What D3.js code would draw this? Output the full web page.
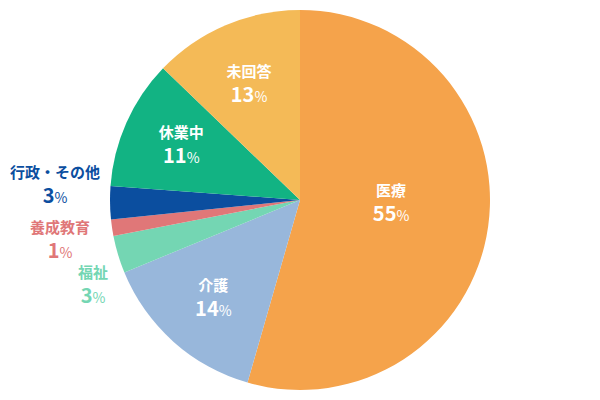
<!DOCTYPE html>
<html><head><meta charset="utf-8">
<script src="https://cdn.jsdelivr.net/npm/d3@7"></script>
<style>body{margin:0;background:#fff}svg{display:block}</style>
</head><body>
<svg id="c" width="600" height="400"></svg>
<script>
const categories = ["医療","介護","福祉","養成教育","行政・その他","休業中","未回答"];
const values = [54.4, 14.3, 3.2, 1.4, 2.8, 11.0, 12.8];
const labels = ["55","14","3","1","3","11","13"];
const colors = ["#F5A34B","#98B7DB","#74D6B3","#E07778","#0B4E9F","#12B383","#F4BA57"];
const outside = [false,false,true,true,true,false,false];

const W=600,H=400,cx=300,cy=200,R=190;
const svg=d3.select("#c");
const g=svg.append("g").attr("transform",`translate(${cx},${cy})`);
const pie=d3.pie().sort(null).value(d=>d)(values);
const arc=d3.arc().innerRadius(0).outerRadius(R);
g.selectAll("path.s").data(pie).join("path").attr("class","s")
  .attr("d",arc).attr("fill",(d,i)=>colors[i]);

// label layout
const outPos = {2:[-207,84],3:[-240,39],4:[-245,-16]};
const adj = {0:[0,-11],5:[0,-3],6:[0,3]};
pie.forEach((d,i)=>{
  let x,y;
  if(outside[i]){ [x,y]=outPos[i]; }
  else {
    const k = i===0 ? 92 : 130;
    const a=(d.startAngle+d.endAngle)/2;
    x=k*Math.sin(a); y=-k*Math.cos(a);
    if(adj[i]){x+=adj[i][0];y+=adj[i][1];}
  }
  const col = outside[i]?colors[i]:"#fff";
  const t=g.append("g").attr("transform",`translate(${x},${y})`);
  t.append("text").attr("text-anchor","middle").attr("y",-6)
    .attr("font-family","'Noto Sans CJK JP','Noto Sans',sans-serif")
    .attr("font-weight","bold").attr("font-size",15).attr("fill",col)
    .text(categories[i]);
  const n=t.append("text").attr("text-anchor","middle").attr("y",19)
    .attr("font-family","'Noto Sans CJK JP','Noto Sans',sans-serif").attr("fill",col);
  n.append("tspan").attr("font-weight","bold").attr("font-size",20).text(labels[i]);
  n.append("tspan").attr("font-weight","normal").attr("font-size",14).text("%");
});
</script>
</body></html>
